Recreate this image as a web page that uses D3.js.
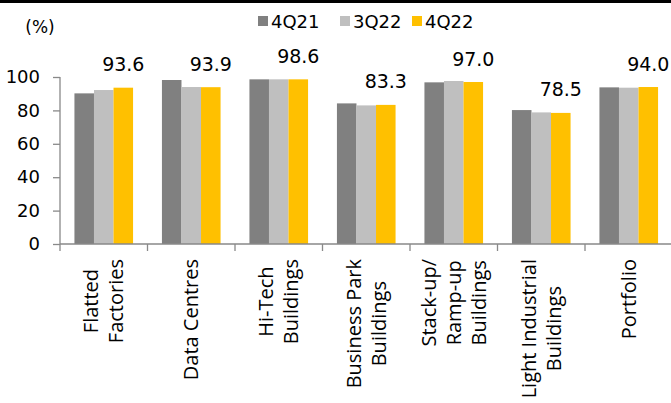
<!DOCTYPE html>
<html>
<head>
<meta charset="utf-8">
<script src="https://cdn.jsdelivr.net/npm/d3@7"></script>
<style>
  html, body { margin: 0; padding: 0; background: #fff; }
  svg { display: block; }
  .num { font-family: "DejaVu Sans", sans-serif; fill: #000; }
  .cat { font-family: "Open Sans", sans-serif; font-size: 20px; fill: #000; }
</style>
</head>
<body>
<div id="chart"></div>
<script>
// ---- data ----
var categories = [
    ["Flatted", "Factories"],
    ["Data Centres"],
    ["Hi-Tech", "Buildings"],
    ["Business Park", "Buildings"],
    ["Stack-up/", "Ramp-up", "Buildings"],
    ["Light Industrial", "Buildings"],
    ["Portfolio"]
];
var seriesNames = ["4Q21", "3Q22", "4Q22"];
var values4Q21 = [90.2, 98.2, 98.6, 84.2, 96.8, 80.2, 93.8];
var values3Q22 = [92.2, 94.0, 98.6, 83.0, 97.6, 78.8, 93.6];
var values4Q22 = [93.6, 93.9, 98.6, 83.3, 97.0, 78.5, 94.0];
var yTicks = [0, 20, 40, 60, 80, 100];

var colors = ["#808080", "#bfbfbf", "#ffc000"];
var axisColor = "#898989";

var width = 671, height = 403;
var margin = {top: 77, left: 60, bottom: 159};

var svg = d3.select("#chart").append("svg")
    .attr("width", width)
    .attr("height", height);

// black strip across the top
svg.append("rect")
    .attr("x", 0).attr("y", 0)
    .attr("width", width).attr("height", 3)
    .attr("fill", "#000");

var x0 = d3.scaleBand()
    .domain(d3.range(categories.length))
    .range([margin.left, margin.left + 87.5 * categories.length])
    .paddingInner(0.33)
    .paddingOuter(0.165);

var x1 = d3.scaleBand()
    .domain(seriesNames)
    .range([0, x0.bandwidth()]);

var y = d3.scaleLinear()
    .domain([0, 100])
    .range([height - margin.bottom, margin.top]);

var series = [values4Q21, values3Q22, values4Q22];
var rows = categories.map(function (c, i) {
    return seriesNames.map(function (s, k) {
        return {cat: i, name: s, value: series[k][i], color: colors[k]};
    });
});

// bars
var groups = svg.selectAll(".group")
    .data(rows)
    .enter().append("g")
    .attr("class", "group")
    .attr("transform", function (d, i) { return "translate(" + x0(i) + ",0)"; });

groups.selectAll("rect")
    .data(function (d) { return d; })
    .enter().append("rect")
    .attr("x", function (d) { return x1(d.name); })
    .attr("y", function (d) { return y(d.value); })
    .attr("width", x1.bandwidth())
    .attr("height", function (d) { return y(0) - y(d.value); })
    .attr("fill", function (d) { return d.color; });

// value labels on 4Q22
svg.selectAll(".val")
    .data(values4Q22)
    .enter().append("text")
    .attr("class", "num val")
    .attr("font-size", 19)
    .attr("text-anchor", "middle")
    .attr("x", function (d, i) { return x0(i) + x1("4Q22") + x1.bandwidth() / 2; })
    .attr("y", function (d) { return y(d) - 16.5; })
    .text(function (d) { return d.toFixed(1); });

// y axis
var yAxis = svg.append("g")
    .attr("transform", "translate(" + margin.left + ",0)")
    .call(d3.axisLeft(y).tickValues(yTicks).tickSize(7).tickSizeOuter(0).tickPadding(13));
yAxis.selectAll("text").attr("class", "num").attr("font-size", 18).attr("fill", "#000");
yAxis.selectAll("line, path").attr("stroke", axisColor).attr("stroke-width", 1.3);
yAxis.select(".domain").attr("d", "M0," + y(100) + "V" + y(0));

// x axis: line + ticks at band boundaries
var xAxisY = y(0);
svg.append("line")
    .attr("x1", margin.left).attr("x2", width)
    .attr("y1", xAxisY).attr("y2", xAxisY)
    .attr("stroke", axisColor).attr("stroke-width", 1.3);

var step = x0.step();
svg.selectAll(".xtick")
    .data(d3.range(categories.length))
    .enter().append("line")
    .attr("class", "xtick")
    .attr("x1", function (d, i) { return x0(i) - x0.paddingInner() * step / 2; })
    .attr("x2", function (d, i) { return x0(i) - x0.paddingInner() * step / 2; })
    .attr("y1", xAxisY).attr("y2", xAxisY + 7)
    .attr("stroke", axisColor).attr("stroke-width", 1.3);

// category labels, rotated, lines centred on each other
var catGroups = svg.selectAll(".catlabel")
    .data(categories)
    .enter().append("g")
    .attr("class", "catlabel")
    .attr("transform", function (d, i) {
        return "translate(" + (x0(i) + x0.bandwidth() / 2) + "," + xAxisY + ") rotate(-90)";
    });

catGroups.each(function (lines) {
    var g = d3.select(this);
    var texts = g.selectAll("text")
        .data(lines)
        .enter().append("text")
        .attr("class", "cat")
        .attr("text-anchor", "middle")
        .attr("dy", "0.36em")
        .attr("y", function (d, k) { return (k - (lines.length - 1) / 2) * 25; })
        .text(function (d) { return d; });
    var maxLen = 0;
    texts.each(function () { maxLen = Math.max(maxLen, this.getComputedTextLength()); });
    texts.attr("x", -(15 + maxLen / 2));
});

// (%) unit label
svg.append("text")
    .attr("class", "num")
    .attr("font-size", 17)
    .attr("x", 40).attr("y", 33)
    .attr("text-anchor", "middle")
    .text("(%)");

// legend
var legendX = [258, 340, 412];
var legend = svg.selectAll(".legend")
    .data(seriesNames)
    .enter().append("g")
    .attr("class", "legend")
    .attr("transform", function (d, i) { return "translate(" + legendX[i] + ",0)"; });

legend.append("rect")
    .attr("x", 0).attr("y", 16)
    .attr("width", 10).attr("height", 10)
    .attr("fill", function (d, i) { return colors[i]; });

legend.append("text")
    .attr("class", "num")
    .attr("font-size", 18)
    .attr("x", 13).attr("y", 28)
    .text(function (d) { return d; });
</script>
</body>
</html>
